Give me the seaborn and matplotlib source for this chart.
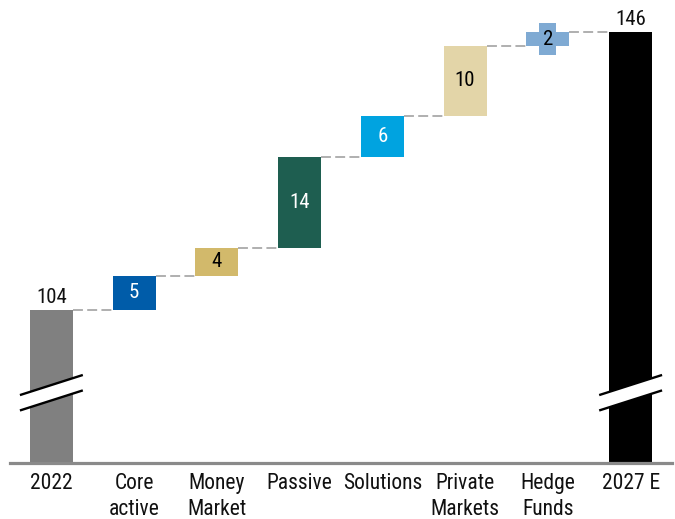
import matplotlib
matplotlib.use("Agg")
import matplotlib.pyplot as plt
from matplotlib.patches import Rectangle
import seaborn as sns
import pandas as pd
import numpy as np

# Asset-management revenue pools: start, drivers of growth, end
categories = ["2022", "Core\nactive", "Money\nMarket", "Passive", "Solutions",
              "Private\nMarkets", "Hedge\nFunds", "2027 E"]
start_total = 104.2
increments = [5.1, 4.2, 13.6, 6.1, 10.4, 2.1]
end_total = start_total + sum(increments)
colors = ["#808080", "#005CA9", "#D2B96B", "#1E5E50", "#00A3E0",
          "#E3D5A8", "#7FAAD3", "#000000"]
label_colors = ["black", "white", "black", "white", "white",
                "black", "black", "black"]

sns.set_theme(style="white")
plt.rcParams["font.family"] = ["Roboto Condensed", "Roboto", "DejaVu Sans"]

# Bar bottoms/heights for the waterfall
values = [start_total] + increments + [end_total]
bottoms = [0.0]
running = start_total
for inc in increments:
    bottoms.append(running)
    running += inc
bottoms.append(0.0)
tops = [b + v for b, v in zip(bottoms, values)]

df = pd.DataFrame({"category": categories, "value": values})

fig = plt.figure(figsize=(6.75, 5.19), dpi=100)
ax = fig.add_axes([10 / 675, 56 / 519, 662 / 675, 463 / 519])

bar_w = 0.52
sns.barplot(data=df, x="category", y="value", hue="category",
            palette=dict(zip(categories, colors)), order=categories,
            hue_order=categories, width=bar_w, legend=False, ax=ax,
            saturation=1, edgecolor="none", linewidth=0)

# Float each bar on its running-total bottom
for patch in ax.patches:
    i = int(round(patch.get_x() + patch.get_width() / 2))
    patch.set_y(bottoms[i])
    patch.set_height(values[i])

ymin, ymax = 81.36, 150.48
ax.set_xlim(-0.5, len(categories) - 0.5)
ax.set_ylim(ymin, ymax)

# Dashed connectors between consecutive bars
levels = [start_total] + list(np.cumsum(increments) + start_total)
for i, lvl in enumerate(levels):
    ax.plot([i + bar_w / 2, i + 1 - bar_w / 2], [lvl, lvl], color="#9a9a9a",
            lw=1.1, linestyle=(0, (6.5, 2.8)), zorder=1)

# Value labels
last = len(values) - 1
for i, (v, top, bot) in enumerate(zip(values, tops, bottoms)):
    txt = f"{v:.0f}"
    if i in (0, last):
        ax.text(i, top + 0.4, txt, ha="center", va="bottom", fontsize=15,
                color="#111111")
        continue
    mid = (top + bot) / 2
    if i == last - 1:
        # label tag sticking out of the thin bar
        ax.add_patch(Rectangle((i - 0.103, mid - 2.4), 0.206, 4.8,
                               fc=colors[i], ec="none", zorder=3))
    ax.text(i, mid, txt, ha="center", va="center", fontsize=15,
            color=label_colors[i], zorder=4)

# Axis-break marks on the first and last bars
for i in (0, last):
    dx = 0.38
    y_hi, y_lo, tilt = 93.0, 90.7, 1.5
    xs = [i - dx, i + dx, i + dx, i - dx]
    ys = [y_hi - tilt, y_hi + tilt, y_lo + tilt, y_lo - tilt]
    ax.fill(xs, ys, color="white", zorder=3, lw=0)
    ax.plot([i - dx, i + dx], [y_hi - tilt, y_hi + tilt], color="black",
            lw=1.7, zorder=4, solid_capstyle="butt")
    ax.plot([i - dx, i + dx], [y_lo - tilt, y_lo + tilt], color="black",
            lw=1.7, zorder=4, solid_capstyle="butt")

sns.despine(ax=ax, left=True)
ax.spines["bottom"].set_color("#8a8a8a")
ax.spines["bottom"].set_linewidth(2.3)
ax.set_yticks([])
ax.set_xlabel("")
ax.set_ylabel("")
ax.tick_params(axis="x", length=0, pad=7, labelsize=15.5, colors="#111111")
for lab in ax.get_xticklabels():
    lab.set_linespacing(1.32)

fig.savefig("out.png", dpi=100)
